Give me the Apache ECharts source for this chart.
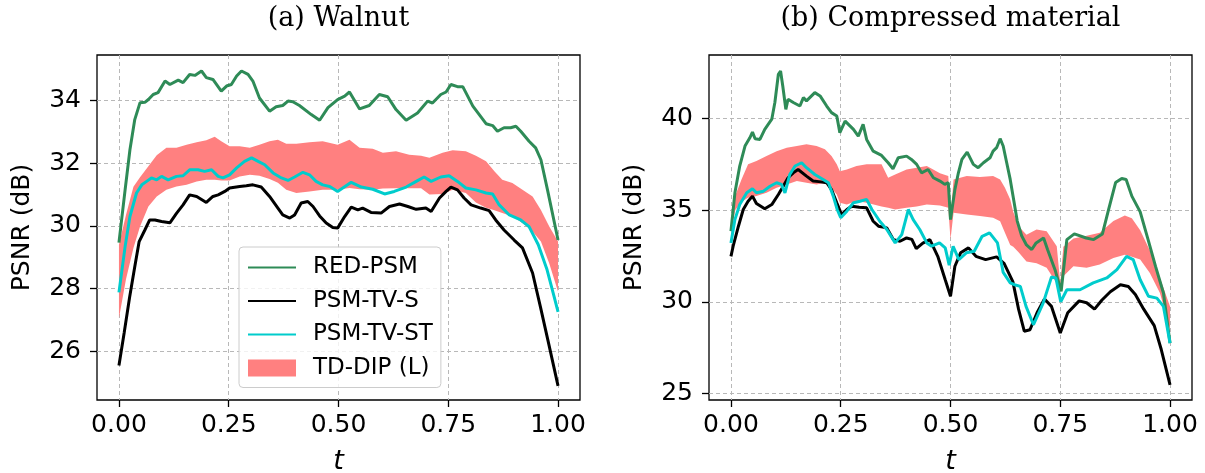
<!DOCTYPE html>
<html>
<head>
<meta charset="utf-8">
<script src="https://cdn.jsdelivr.net/npm/echarts@6/dist/echarts.min.js"></script>
<style>html,body{margin:0;padding:0;background:#fff;}#c{width:1205px;height:473px;}</style>
</head>
<body>
<div id="c"></div>
<script>
// ---------- tick values ----------
const xTicks = [0, 0.25, 0.5, 0.75, 1.0];
const yTicksWalnut = [26, 28, 30, 32, 34];
const yTicksMaterial = [25, 30, 35, 40];
const panelTitles = ['(a) Walnut', '(b) Compressed material'];
const seriesNames = ['RED-PSM', 'PSM-TV-S', 'PSM-TV-ST', 'TD-DIP (L)'];

// ---------- (a) Walnut ----------
const walnutRED = [[0,29.47],[0.014,31.15],[0.025,32.43],[0.036,33.39],[0.048,33.93],[0.059,33.94],[0.067,34.03],[0.078,34.19],[0.089,34.25],[0.105,34.62],[0.116,34.51],[0.135,34.65],[0.146,34.57],[0.161,34.83],[0.173,34.8],[0.188,34.94],[0.199,34.73],[0.214,34.67],[0.233,34.3],[0.245,34.46],[0.256,34.51],[0.268,34.78],[0.279,34.94],[0.294,34.83],[0.305,34.62],[0.32,34.08],[0.343,33.66],[0.358,33.8],[0.373,33.84],[0.385,33.98],[0.396,33.96],[0.411,33.84],[0.438,33.55],[0.457,33.37],[0.476,33.77],[0.498,34.03],[0.514,34.14],[0.525,34.27],[0.548,33.73],[0.57,33.84],[0.593,34.19],[0.612,34.12],[0.631,33.71],[0.654,33.37],[0.68,33.6],[0.703,33.98],[0.714,33.92],[0.733,34.19],[0.745,34.27],[0.756,34.51],[0.771,34.44],[0.783,34.44],[0.806,33.82],[0.836,33.26],[0.851,33.2],[0.862,33.02],[0.877,33.13],[0.892,33.13],[0.904,33.18],[0.915,33.02],[0.934,32.7],[0.949,32.49],[0.961,32.11],[0.976,31.15],[1.0,29.55]];
const walnutTVS = [[0,25.55],[0.012,26.6],[0.024,27.7],[0.036,28.7],[0.046,29.5],[0.059,29.87],[0.07,30.19],[0.082,30.19],[0.097,30.14],[0.116,30.1],[0.131,30.4],[0.146,30.67],[0.161,30.99],[0.177,30.94],[0.199,30.75],[0.214,30.94],[0.226,30.99],[0.241,31.1],[0.252,31.21],[0.275,31.26],[0.29,31.28],[0.305,31.31],[0.324,31.24],[0.343,30.94],[0.362,30.57],[0.373,30.35],[0.389,30.25],[0.4,30.35],[0.415,30.73],[0.43,30.78],[0.442,30.62],[0.457,30.32],[0.472,30.09],[0.487,29.95],[0.498,29.93],[0.514,30.3],[0.529,30.6],[0.544,30.51],[0.555,30.57],[0.574,30.43],[0.597,30.41],[0.616,30.62],[0.639,30.7],[0.658,30.62],[0.677,30.53],[0.699,30.57],[0.711,30.46],[0.73,30.89],[0.745,31.1],[0.756,31.24],[0.771,31.15],[0.786,30.89],[0.802,30.67],[0.824,30.57],[0.843,30.49],[0.858,30.19],[0.877,29.87],[0.9,29.55],[0.919,29.3],[0.942,28.5],[0.96,27.41],[0.977,26.35],[1.0,24.9]];
const walnutTVST = [[0,27.88],[0.014,29.34],[0.025,30.3],[0.04,31.05],[0.052,31.31],[0.063,31.42],[0.074,31.53],[0.086,31.47],[0.097,31.58],[0.112,31.47],[0.131,31.58],[0.146,31.6],[0.161,31.79],[0.18,31.79],[0.195,31.74],[0.211,31.79],[0.226,31.58],[0.237,31.53],[0.252,31.63],[0.268,31.85],[0.286,32.06],[0.302,32.17],[0.317,32.06],[0.332,31.95],[0.351,31.69],[0.37,31.53],[0.385,31.45],[0.4,31.56],[0.419,31.71],[0.434,31.63],[0.449,31.42],[0.464,31.31],[0.48,31.26],[0.498,31.1],[0.529,31.39],[0.552,31.24],[0.578,31.17],[0.605,31.02],[0.627,31.1],[0.654,31.24],[0.677,31.42],[0.695,31.56],[0.711,31.42],[0.733,31.56],[0.752,31.6],[0.771,31.42],[0.79,31.21],[0.813,31.15],[0.836,31.05],[0.851,31.02],[0.866,30.67],[0.889,30.35],[0.915,30.19],[0.934,29.98],[0.955,29.4],[0.975,28.6],[0.99,27.8],[1.0,27.26]];
const walnutBandT     = [0,0.016,0.033,0.048,0.067,0.086,0.108,0.131,0.154,0.177,0.199,0.218,0.233,0.252,0.275,0.298,0.32,0.343,0.362,0.381,0.404,0.434,0.464,0.498,0.525,0.548,0.578,0.601,0.631,0.661,0.688,0.707,0.737,0.76,0.79,0.813,0.836,0.855,0.873,0.896,0.919,0.942,0.961,0.98,1.0];
const walnutBandUpper = [29.4,30.35,31.25,31.55,31.9,32.25,32.49,32.49,32.59,32.67,32.73,32.84,32.7,32.54,32.54,32.49,32.59,32.7,32.75,32.62,32.62,32.67,32.7,32.59,32.75,32.49,32.46,32.33,32.38,32.27,32.24,32.17,32.33,32.41,32.38,32.24,32.06,31.74,31.47,31.37,31.15,30.94,30.51,29.98,29.5];
const walnutBandLower = [27.06,28.3,29.3,29.98,30.62,30.94,31.15,31.26,31.31,31.42,31.47,31.47,31.45,31.45,31.58,31.63,31.6,31.5,31.38,31.15,31.05,31.1,31.15,31.15,31.21,31.17,31.15,31.19,31.2,31.2,31.2,31.0,31.02,31.15,31.05,30.75,30.58,30.5,30.41,30.3,30.09,29.82,29.5,28.8,27.9];

// ---------- (b) Compressed material ----------
const materialRED = [[0,33.85],[0.009,35.94],[0.02,37.4],[0.032,38.49],[0.043,38.94],[0.049,39.25],[0.055,38.89],[0.066,38.85],[0.077,39.4],[0.093,39.95],[0.1,40.86],[0.108,42.4],[0.113,42.58],[0.118,41.76],[0.125,40.49],[0.13,41.04],[0.142,40.86],[0.157,40.67],[0.165,41.13],[0.172,40.95],[0.191,41.4],[0.203,41.22],[0.218,40.67],[0.229,40.31],[0.241,40.13],[0.248,39.22],[0.26,39.85],[0.279,39.4],[0.29,39.03],[0.301,39.67],[0.309,38.85],[0.324,38.21],[0.343,37.98],[0.358,37.58],[0.369,37.25],[0.381,37.85],[0.4,37.94],[0.411,37.76],[0.423,37.49],[0.434,37.03],[0.449,37.21],[0.461,36.76],[0.476,36.58],[0.487,36.4],[0.495,36.49],[0.5,34.48],[0.51,36.12],[0.518,37.03],[0.526,37.76],[0.538,38.16],[0.552,37.49],[0.563,37.31],[0.575,37.58],[0.59,37.85],[0.597,38.21],[0.605,38.4],[0.613,38.89],[0.62,38.49],[0.628,37.58],[0.636,36.67],[0.645,35.4],[0.652,34.4],[0.662,33.6],[0.673,33.1],[0.685,32.85],[0.695,33.21],[0.712,33.48],[0.721,32.85],[0.738,31.75],[0.752,30.57],[0.765,33.39],[0.782,33.7],[0.809,33.48],[0.826,33.39],[0.846,33.7],[0.86,35.03],[0.876,36.5],[0.89,36.72],[0.9,36.67],[0.913,35.76],[0.932,34.9],[0.95,33.39],[0.967,31.93],[0.985,30.48],[1.0,27.75]];
const materialTVS = [[0,32.48],[0.005,33.03],[0.017,34.12],[0.028,35.03],[0.039,35.48],[0.049,35.76],[0.058,35.36],[0.077,35.07],[0.093,35.3],[0.108,35.85],[0.119,36.3],[0.13,36.76],[0.142,37.03],[0.153,37.21],[0.172,36.85],[0.187,36.58],[0.2,36.55],[0.218,36.49],[0.229,36.12],[0.241,35.4],[0.252,34.76],[0.264,35.03],[0.275,35.21],[0.292,35.15],[0.309,35.12],[0.324,34.39],[0.336,34.12],[0.355,34.03],[0.37,33.39],[0.385,33.3],[0.4,33.48],[0.412,33.4],[0.422,32.9],[0.437,33.2],[0.453,33.39],[0.471,32.48],[0.488,31.2],[0.5,30.3],[0.51,31.94],[0.523,32.67],[0.541,32.94],[0.558,32.48],[0.58,32.3],[0.605,32.45],[0.622,32.1],[0.642,31.1],[0.655,29.6],[0.668,28.4],[0.681,28.48],[0.698,29.45],[0.714,30.15],[0.73,29.75],[0.75,28.3],[0.767,29.4],[0.793,30.05],[0.81,29.95],[0.828,29.6],[0.845,30.1],[0.864,30.55],[0.887,30.93],[0.905,30.84],[0.921,30.4],[0.94,29.6],[0.964,28.7],[0.98,27.4],[1.0,25.48]];
const materialTVST = [[0,33.21],[0.009,34.48],[0.02,35.3],[0.036,35.94],[0.049,36.16],[0.058,35.94],[0.074,36.03],[0.089,36.3],[0.104,36.49],[0.115,36.4],[0.123,35.94],[0.134,36.94],[0.146,37.4],[0.161,37.58],[0.172,37.31],[0.191,36.94],[0.21,36.67],[0.222,36.49],[0.233,35.76],[0.242,35.03],[0.25,34.58],[0.264,34.94],[0.279,35.4],[0.294,35.48],[0.309,35.58],[0.321,35.03],[0.339,34.39],[0.355,33.94],[0.374,33.21],[0.389,33.66],[0.404,35.03],[0.415,34.48],[0.43,33.94],[0.446,33.21],[0.457,33.03],[0.475,33.21],[0.488,32.94],[0.497,32.0],[0.506,33.03],[0.519,32.3],[0.536,32.67],[0.554,32.76],[0.572,33.57],[0.589,33.76],[0.607,33.21],[0.62,31.6],[0.636,31.03],[0.646,30.93],[0.659,30.84],[0.672,29.75],[0.689,28.75],[0.711,29.93],[0.73,31.35],[0.74,31.3],[0.751,30.0],[0.765,30.66],[0.795,30.66],[0.825,31.03],[0.856,31.3],[0.879,31.75],[0.901,32.48],[0.916,32.3],[0.932,31.2],[0.951,30.3],[0.97,30.2],[0.985,29.75],[1.0,27.75]];
const materialBandT     = [0,0.01,0.024,0.039,0.058,0.081,0.104,0.127,0.15,0.172,0.195,0.214,0.229,0.241,0.248,0.264,0.286,0.309,0.343,0.358,0.374,0.4,0.423,0.446,0.476,0.495,0.5,0.507,0.537,0.567,0.597,0.613,0.624,0.636,0.643,0.655,0.673,0.696,0.719,0.742,0.75,0.757,0.78,0.81,0.84,0.871,0.897,0.913,0.932,0.954,0.977,1.0];
const materialBandUpper = [34.3,35.8,36.67,37.49,37.67,37.94,38.21,38.4,38.49,38.58,38.49,38.31,37.94,37.49,37.12,37.21,37.4,37.49,37.49,36.76,36.94,37.21,37.31,37.4,37.0,36.85,34.6,36.67,36.85,36.8,36.85,36.67,36.21,35.58,34.9,34.12,33.66,33.94,33.85,33.03,31.0,33.0,33.45,33.6,33.76,34.4,34.7,34.55,33.9,32.8,31.3,29.75];
const materialBandLower = [33.8,35.0,35.45,35.67,35.76,35.94,36.21,36.4,36.58,36.49,36.4,36.49,36.2,35.85,35.4,35.3,35.49,35.4,35.2,35.12,35.03,35.12,35.2,35.3,35.25,35.12,33.4,34.85,34.76,34.67,34.58,34.39,33.76,33.1,33.0,32.7,32.2,32.1,31.85,31.0,30.6,31.39,31.94,31.85,32.03,32.39,32.57,32.45,32.3,31.57,30.48,28.5];

// ---------- styling ----------
const COLORS = { red: '#2e8b57', tvs: '#000000', tvst: '#00cccc', band: '#ff8080' };
const FONT = 'DejaVu Sans';

const grids = [
  { left: 97, top: 55, width: 483, height: 345 },
  { left: 709, top: 55, width: 483, height: 345 }
];
const yRanges = [[24.45, 35.45], [24.65, 43.45]];
const yTicks = [yTicksWalnut, yTicksMaterial];

function xAxis(i) {
  return {
    type: 'value', gridIndex: i, min: -0.05, max: 1.05,
    axisLine: { show: false, onZero: false },
    axisTick: { show: true, length: 7, customValues: xTicks, lineStyle: { color: '#000', width: 1.3 } },
    axisLabel: { show: true, customValues: xTicks, formatter: v => v.toFixed(2), fontSize: 25, fontFamily: FONT, color: '#000', margin: 13 },
    splitLine: { show: true, lineStyle: { color: '#b8b8b8', width: 1, type: [4, 3] } },
    name: 't', nameLocation: 'middle', nameGap: 48,
    nameTextStyle: { fontStyle: 'italic', fontSize: 27, fontFamily: FONT, color: '#000' }
  };
}
function yAxis(i) {
  return {
    type: 'value', gridIndex: i, min: yRanges[i][0], max: yRanges[i][1],
    axisLine: { show: false, onZero: false },
    axisTick: { show: true, length: 7, customValues: yTicks[i], lineStyle: { color: '#000', width: 1.3 } },
    axisLabel: { show: true, customValues: yTicks[i], fontSize: 25, fontFamily: FONT, color: '#000', margin: 16 },
    splitLine: { show: true, lineStyle: { color: '#b8b8b8', width: 1, type: [4, 3] } },
    name: 'PSNR (dB)', nameLocation: 'middle', nameGap: 62,
    nameTextStyle: { fontSize: 25, fontFamily: FONT, color: '#000' }
  };
}
function lineSeries(name, data, color, i, z) {
  return { type: 'line', name, data, xAxisIndex: i, yAxisIndex: i, symbol: 'none', showSymbol: false,
    lineStyle: { color, width: 3 }, itemStyle: { color }, z, animation: false, silent: true };
}
// shaded band (min..max of TD-DIP runs) drawn as one polygon through the axes' scales
function bandSeries(t, lo, up, i) {
  const data = t.map((x, k) => [x, lo[k], up[k]]);
  return {
    type: 'custom', name: seriesNames[3], xAxisIndex: i, yAxisIndex: i, data,
    encode: { x: 0, y: [1, 2] }, itemStyle: { color: COLORS.band }, z: 1, animation: false, silent: true,
    renderItem: function (params, api) {
      if (params.dataIndex !== 0) return null;
      const pts = [];
      for (let k = 0; k < data.length; k++) pts.push(api.coord([data[k][0], data[k][2]]));
      for (let k = data.length - 1; k >= 0; k--) pts.push(api.coord([data[k][0], data[k][1]]));
      return { type: 'polygon', shape: { points: pts }, style: { fill: COLORS.band, stroke: null } };
    }
  };
}

const panels = [
  { red: walnutRED, tvs: walnutTVS, tvst: walnutTVST, t: walnutBandT, lo: walnutBandLower, up: walnutBandUpper },
  { red: materialRED, tvs: materialTVS, tvst: materialTVST, t: materialBandT, lo: materialBandLower, up: materialBandUpper }
];
let series = [];
panels.forEach((p, i) => {
  series.push(bandSeries(p.t, p.lo, p.up, i));
  series.push(lineSeries(seriesNames[0], p.red, COLORS.red, i, 3));
  series.push(lineSeries(seriesNames[1], p.tvs, COLORS.tvs, i, 4));
  series.push(lineSeries(seriesNames[2], p.tvst, COLORS.tvst, i, 5));
});

const chart = echarts.init(document.getElementById('c'), null, { renderer: 'canvas' });
chart.setOption({
  animation: false,
  backgroundColor: '#fff',
  grid: grids.map(g => Object.assign({ show: true, borderColor: '#000', borderWidth: 1.3, backgroundColor: 'transparent', containLabel: false, outerBoundsMode: 'none' }, g)),
  xAxis: [xAxis(0), xAxis(1)],
  yAxis: [yAxis(0), yAxis(1)],
  legend: {
    show: true, orient: 'vertical', left: 239, top: 247,
    padding: [9, 8, 8, 8], itemGap: 10.5, itemWidth: 48, itemHeight: 17,
    backgroundColor: 'rgba(255,255,255,0.8)', borderColor: '#cccccc', borderWidth: 1, borderRadius: 4,
    itemStyle: { opacity: 0 },
    textStyle: { fontSize: 23, fontFamily: FONT, color: '#000', padding: [0, 0, 0, 12] },
    selectedMode: false, z: 10,
    data: [
      { name: seriesNames[0] }, { name: seriesNames[1] }, { name: seriesNames[2] },
      { name: seriesNames[3], icon: 'rect', itemStyle: { color: COLORS.band, opacity: 1 } }
    ]
  },
  graphic: panelTitles.map((txt, i) => ({
    type: 'text', x: grids[i].left + grids[i].width / 2, y: 19,
    style: { text: txt, align: 'center', verticalAlign: 'middle', font: '27px "DejaVu Serif"', fill: '#000' }
  })),
  series
});
</script>
</body>
</html>
